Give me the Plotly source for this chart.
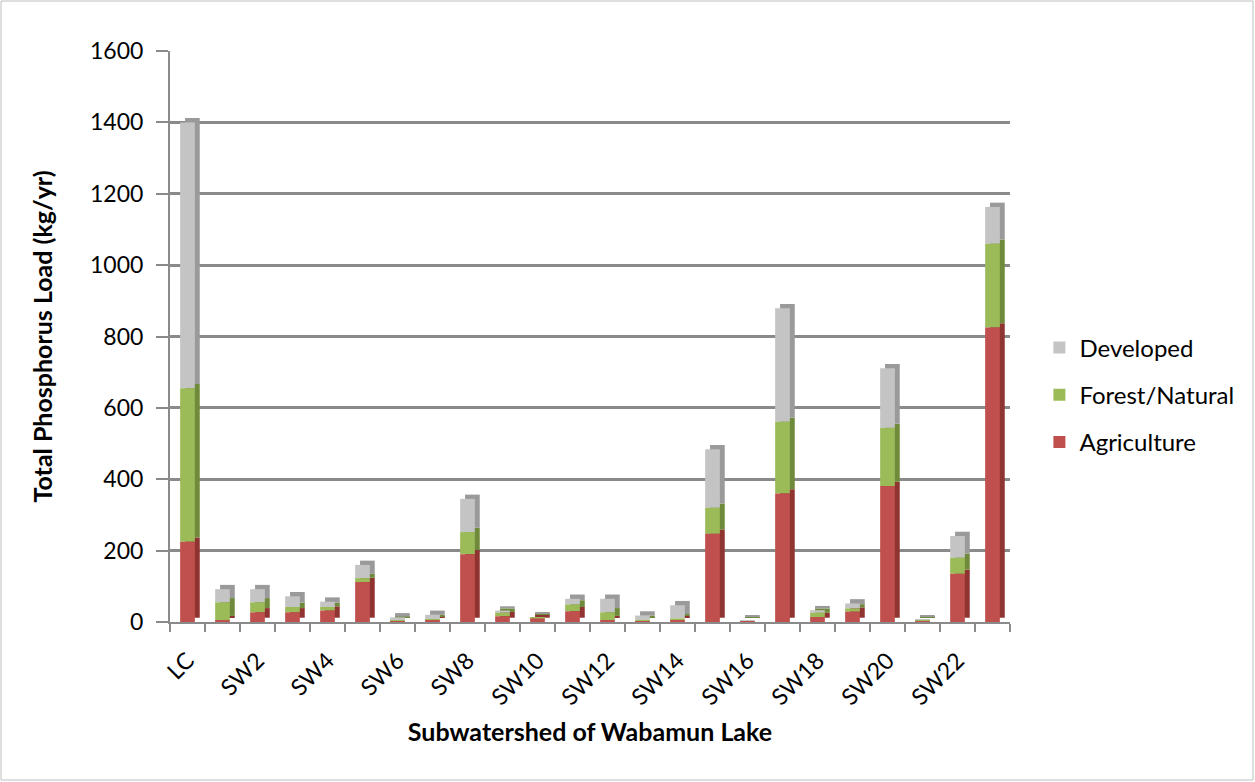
import numpy as np
import plotly.graph_objects as go

categories = ["LC"] + [f"SW{i}" for i in range(1, 24)]
agriculture = [225, 5, 27, 27, 32, 112, 1, 4, 190, 16, 10, 30, 5, 1, 5, 247, 1, 360, 14, 29, 381, 1, 135, 825]
forest = [430, 50, 28, 15, 10, 11, 2, 4, 62, 10, 2, 19, 22, 5, 5, 73, 1, 201, 12, 9, 163, 2, 45, 235]
developed = [745, 37, 37, 30, 15, 37, 10, 12, 93, 6, 2, 16, 38, 12, 37, 164, 3, 318, 7, 14, 167, 3, 61, 103]
y_ticks = [0, 200, 400, 600, 800, 1000, 1200, 1400, 1600]

FONT = "Lato, Carlito, Calibri, sans-serif"
GRID = "#8a8a8a"
DEPTH = 12        # visual depth of the 3-D look, in axis units
SHIFT = 0.14      # horizontal depth shift, in category units
BAR_W = 0.42

xpos = list(range(len(categories)))
shown = xpos[::2]

series = [
    ("Agriculture", agriculture, "#C0504D", "#8f3431"),
    ("Forest/Natural", forest, "#9BBB59", "#6f8a3a"),
    ("Developed", developed, "#C4C4C4", "#9a9a9a"),
]
bases = {}
running = np.zeros(len(categories))
for name, vals, _, _ in series:
    bases[name] = running.copy()
    running = running + np.array(vals)

fig = go.Figure()
# depth (side/top) faces drawn first
for name, vals, color, dark in series:
    fig.add_trace(go.Bar(
        x=xpos, y=vals, base=bases[name] + DEPTH, width=BAR_W,
        offset=-BAR_W / 2 + SHIFT, marker=dict(color=dark, line=dict(width=0)),
        showlegend=False, hoverinfo="skip",
    ))
# front faces (added top series first so the legend reads Developed, Forest, Agriculture)
for name, vals, color, dark in reversed(series):
    fig.add_trace(go.Bar(
        x=xpos, y=vals, base=bases[name], width=BAR_W, offset=-BAR_W / 2,
        name=name, legendgroup=name,
        marker=dict(color=color, line=dict(width=0)),
    ))

W, H = 1255, 782
L, R, T, B = 170, 245, 51, 160
pw, ph = W - L - R, H - T - B

fig.update_layout(
    width=W, height=H,
    barmode="overlay",
    margin=dict(l=L, r=R, t=T, b=B),
    paper_bgcolor="white", plot_bgcolor="white",
    font=dict(family=FONT, size=23, color="#000000"),
    showlegend=True,
    legend=dict(
        x=1.035, y=(622 - 395) / ph, xanchor="left", yanchor="middle",
        traceorder="grouped", tracegroupgap=13,
        font=dict(family=FONT, size=24),
        itemwidth=30,
    ),
    xaxis=dict(
        range=[-0.5, len(categories) - 0.5],
        tickmode="array", tickvals=shown,
        ticktext=[categories[i] for i in shown],
        tickangle=-45, ticks="outside", ticklen=14,
        tickcolor="rgba(0,0,0,0)",
        showline=True, linecolor=GRID, linewidth=2,
        showgrid=False, zeroline=False,
        tickfont=dict(family=FONT, size=23),
        minor=dict(tickmode="array",
                   tickvals=[i - 0.5 for i in range(len(categories) + 1)],
                   ticks="outside", ticklen=8, tickcolor=GRID, tickwidth=2,
                   showgrid=False),
        title=dict(text="<b>Subwatershed of Wabamun Lake</b>",
                   font=dict(family=FONT, size=25), standoff=14),
    ),
    yaxis=dict(
        range=[0, 1600], tickmode="array", tickvals=y_ticks,
        ticks="outside", ticklen=12, tickcolor=GRID, tickwidth=2,
        ticklabelstandoff=8,
        showline=True, linecolor=GRID, linewidth=2,
        showgrid=True, gridcolor=GRID, gridwidth=2.5,
        zeroline=False,
        tickfont=dict(family=FONT, size=23),
        title=dict(text="<b>Total Phosphorus Load (kg/yr)</b>",
                   font=dict(family=FONT, size=25), standoff=30),
    ),
    shapes=[dict(
        type="rect", xref="paper", yref="paper",
        x0=-(L - 1) / pw, x1=(W - L - 2) / pw,
        y0=-(B - 2) / ph, y1=(T - 1) / ph + 1,
        line=dict(color="#bfbfbf", width=1), fillcolor="rgba(0,0,0,0)",
        layer="below",
    )],
)

fig.write_html("out.html")
